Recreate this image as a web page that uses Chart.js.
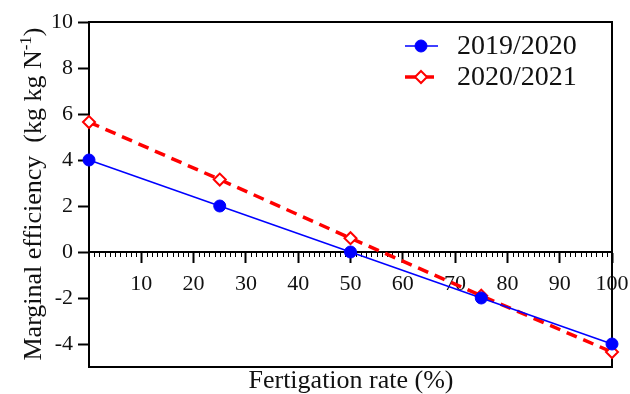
<!DOCTYPE html>
<html>
<head>
<meta charset="utf-8">
<script src="https://cdn.jsdelivr.net/npm/chart.js@4.4.0/dist/chart.umd.min.js"></script>
<style>
html, body { margin: 0; padding: 0; background: #fff; }
</style>
</head>
<body>
<canvas id="lineChart" width="630" height="394"></canvas>
<script>
var rates = [0, 25, 50, 75, 100];
var season1 = [4.0, 2.0, 0.0, -2.0, -4.0];
var season2 = [5.65, 3.15, 0.6, -1.9, -4.35];
var seasonNames = ['2019/2020', '2020/2021'];
var xTickValues = [10, 20, 30, 40, 50, 60, 70, 80, 90, 100];
var yTickValues = [-4, -2, 0, 2, 4, 6, 8, 10];

var serif = '"Liberation Serif", "Times New Roman", serif';
var blue = '#0000ff';
var red = '#ff0000';

function points(values) {
    return rates.map(function (r, i) { return { x: r, y: values[i] }; });
}

// frame, minor ticks, axis titles and legend
var extras = {
    id: 'extras',
    beforeDatasetsDraw: function (chart) {
        var ctx = chart.ctx, a = chart.chartArea;
        var xs = chart.scales.x, ys = chart.scales.y;
        ctx.save();
        ctx.strokeStyle = '#000';
        ctx.lineWidth = 2;
        ctx.beginPath();
        ctx.moveTo(a.left, a.top); ctx.lineTo(a.right, a.top);
        ctx.lineTo(a.right, a.bottom); ctx.lineTo(a.left, a.bottom);
        ctx.stroke();
        // minor ticks on the zero line
        var y0 = ys.getPixelForValue(0);
        ctx.lineWidth = 1;
        ctx.beginPath();
        for (var v = 1; v < 100; v++) {
            if (v % 10 === 0) continue;
            var px = Math.round(xs.getPixelForValue(v)) + 0.5;
            ctx.moveTo(px, y0 - 1);
            ctx.lineTo(px, y0 + 5);
        }
        ctx.stroke();
        ctx.restore();
    },
    afterDraw: function (chart) {
        var ctx = chart.ctx, a = chart.chartArea;
        ctx.save();
        ctx.fillStyle = '#111';

        // x title
        ctx.font = '26px ' + serif;
        ctx.textAlign = 'center';
        ctx.textBaseline = 'alphabetic';
        ctx.fillText('Fertigation rate (%)', 351, 388);

        // y title with superscript
        var main = 'Marginal efficiency  (kg kg N';
        var sup = '-1';
        var close = ')';
        ctx.font = '26px ' + serif;
        var w1 = ctx.measureText(main).width;
        var w3 = ctx.measureText(close).width;
        ctx.font = '17px ' + serif;
        var w2 = ctx.measureText(sup).width;
        var total = w1 + w2 + w3;
        ctx.translate(41, 194);
        ctx.rotate(-Math.PI / 2);
        ctx.textAlign = 'left';
        var sx = -total / 2;
        ctx.font = '26px ' + serif;
        ctx.fillText(main, sx, 0);
        ctx.font = '17px ' + serif;
        ctx.fillText(sup, sx + w1, -10);
        ctx.font = '26px ' + serif;
        ctx.fillText(close, sx + w1 + w2, 0);
        ctx.setTransform(1, 0, 0, 1, 0, 0);

        // legend, first season on top
        var lx = 405, rowY = [46, 77];
        ctx.font = '28px ' + serif;
        ctx.textAlign = 'left';
        ctx.textBaseline = 'middle';
        seasonNames.forEach(function (name, i) {
            var ds = chart.data.datasets.filter(function (d) { return d.label === name; })[0];
            var y = rowY[i];
            var cx = lx + 16;
            ctx.strokeStyle = ds.borderColor;
            ctx.lineWidth = ds.borderWidth;
            ctx.setLineDash(ds.borderDash || []);
            ctx.beginPath();
            ctx.moveTo(lx, y); ctx.lineTo(lx + 33, y);
            ctx.stroke();
            ctx.setLineDash([]);
            ctx.fillStyle = ds.pointBackgroundColor;
            ctx.strokeStyle = ds.pointBorderColor;
            ctx.lineWidth = ds.pointBorderWidth;
            ctx.beginPath();
            var r = ds.pointRadius;
            if (ds.pointStyle === 'circle') {
                ctx.arc(cx, y, r, 0, Math.PI * 2);
            } else {
                ctx.moveTo(cx, y - r); ctx.lineTo(cx + r, y);
                ctx.lineTo(cx, y + r); ctx.lineTo(cx - r, y);
                ctx.closePath();
            }
            ctx.fill();
            ctx.stroke();
            ctx.fillStyle = '#111';
            ctx.fillText(name, 457, y + 1);
        });
        ctx.restore();
    }
};

var ctx = document.getElementById('lineChart').getContext('2d');
var myChart = new Chart(ctx, {
    type: 'line',
    data: {
        datasets: [{
            label: seasonNames[1],
            data: points(season2),
            borderColor: red,
            borderWidth: 3.5,
            borderDash: [11, 7],
            pointStyle: 'rectRot',
            pointRadius: 6,
            pointBorderWidth: 2,
            pointBackgroundColor: '#fff',
            pointBorderColor: red,
            order: 2
        }, {
            label: seasonNames[0],
            data: points(season1),
            borderColor: blue,
            borderWidth: 1.5,
            pointStyle: 'circle',
            pointRadius: 6,
            pointBorderWidth: 1,
            pointBackgroundColor: blue,
            pointBorderColor: blue,
            order: 1
        }]
    },
    options: {
        responsive: false,
        animation: false,
        clip: false,
        layout: { padding: { left: 0, top: 22, right: 18, bottom: 27 } },
        plugins: { legend: { display: false }, tooltip: { enabled: false } },
        scales: {
            x: {
                type: 'linear',
                min: 0,
                max: 100,
                position: { y: 0 },
                afterBuildTicks: function (scale) {
                    scale.ticks = xTickValues.map(function (v) { return { value: v }; });
                },
                afterFit: function (scale) { scale.paddingLeft = 0; scale.paddingRight = 0; },
                grid: { drawOnChartArea: false, tickLength: 10, tickColor: '#000', tickWidth: 2 },
                border: { color: '#000', width: 2 },
                ticks: { color: '#111', font: { family: serif, size: 22 }, padding: 9, maxRotation: 0 }
            },
            y: {
                type: 'linear',
                min: -5,
                max: 10,
                afterBuildTicks: function (scale) {
                    scale.ticks = yTickValues.map(function (v) { return { value: v }; });
                },
                afterFit: function (scale) { scale.width = 89; scale.paddingTop = 0; scale.paddingBottom = 0; },
                grid: { drawOnChartArea: false, tickLength: 11, tickColor: '#000', tickWidth: 2 },
                border: { color: '#000', width: 2 },
                ticks: { color: '#111', font: { family: serif, size: 22 }, padding: 5 }
            }
        }
    },
    plugins: [extras]
});
</script>
</body>
</html>
